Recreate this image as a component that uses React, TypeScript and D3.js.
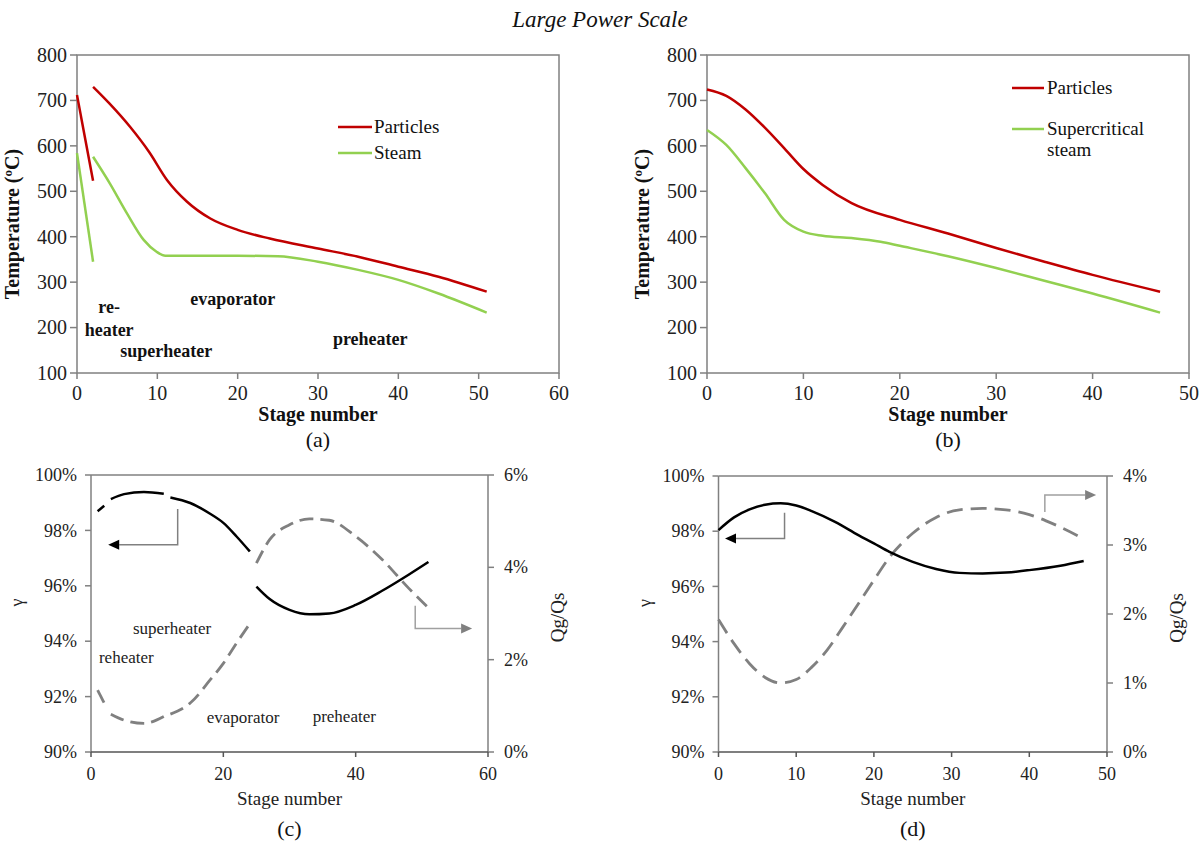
import React from "react";
import * as d3 from "d3";

const FONT = "'Liberation Serif', 'Times New Roman', serif";
const RED = "#c00000";
const GREEN = "#92d050";
const AXIS = "#808080";

// ---------- Panel (a) ----------
const aRhStages = [0, 2];
const aRhParticles = [712, 523];
const aRhSteam = [584, 345];
const aPartStages = [2, 4, 6.6, 9, 11.2, 13.7, 16.6, 20, 24, 30, 35, 40, 45, 51];
const aPartTemp = [730, 694, 642, 586, 525, 477, 440, 415, 396, 374, 356, 334, 312, 279];
const aSteamStages = [2, 4.1, 6.2, 8.3, 9.9, 11, 15, 20, 25, 30, 35, 40, 45, 51];
const aSteamTemp = [576, 517, 452, 393, 367, 358, 358, 358, 357, 345, 327, 305, 275, 233];
const aLabels = [
  { text: "re-", s: 4.0, t: 232 },
  { text: "heater", s: 4.0, t: 182 },
  { text: "superheater", s: 11.1, t: 136 },
  { text: "evaporator", s: 19.4, t: 250 },
  { text: "preheater", s: 36.5, t: 162 },
];

// ---------- Panel (b) ----------
const bStages = [0, 2, 4, 6, 8, 10, 12, 15, 20, 25, 30, 35, 40, 47];
const bParticles = [724, 710, 680, 640, 595, 549, 514, 474, 437, 407, 375, 345, 316, 279];
const bSteamStages = [0, 2, 4, 6, 8, 10, 12, 15, 18, 20, 25, 30, 35, 40, 47];
const bSteam = [635, 602, 551, 496, 437, 411, 402, 397, 389, 380, 357, 331, 303, 275, 233];

// ---------- Panel (c) ----------
const cRhStages = [1, 2];
const cRhGamma = [98.69, 98.89];
const cRhQ = [1.34, 1.06];
const cShStages = [3, 5, 8, 11];
const cShGamma = [99.13, 99.31, 99.39, 99.32];
const cShQ = [0.82, 0.69, 0.62, 0.77];
const cEvStages = [12, 15, 18, 20, 22, 24];
const cEvGamma = [99.19, 98.99, 98.6, 98.27, 97.78, 97.24];
const cEvQ = [0.82, 1.06, 1.56, 1.92, 2.36, 2.78];
const cPhStages = [25, 27, 30, 33, 36, 40, 44, 48, 51];
const cPhGamma = [95.97, 95.52, 95.13, 94.97, 95.0, 95.31, 95.82, 96.4, 96.86];
const cPhQ = [4.09, 4.6, 4.92, 5.05, 5.02, 4.67, 4.17, 3.55, 3.12];
const cLabels = [
  { text: "superheater", s: 6.34, g: 94.26 },
  { text: "reheater", s: 1.2, g: 93.22 },
  { text: "evaporator", s: 17.5, g: 91.05 },
  { text: "preheater", s: 33.5, g: 91.08 },
];
// arrows: [stage, gamma] points; last point is the head tip
const cArrowLeft = [[13.1, 98.77], [13.1, 97.48], [2.6, 97.48]];
const cArrowRight = [[49.0, 95.28], [49.0, 94.46], [57.6, 94.46]];

// ---------- Panel (d) ----------
const dStages = [0, 2, 4, 6, 8, 10, 12, 15, 18, 20, 22, 25, 28, 31, 34, 37, 40, 44, 47];
const dGamma = [98.04, 98.5, 98.79, 98.96, 99.01, 98.93, 98.73, 98.34, 97.86, 97.56, 97.25, 96.89, 96.63, 96.49, 96.47, 96.5, 96.59, 96.75, 96.92];
const dQStages = [0, 2, 4, 6, 8, 10, 12, 14, 16, 18, 20, 22, 25, 28, 31, 34, 37, 40, 43, 47];
const dQ = [1.92, 1.57, 1.28, 1.08, 1.0, 1.05, 1.23, 1.48, 1.81, 2.15, 2.49, 2.82, 3.17, 3.4, 3.51, 3.53, 3.51, 3.44, 3.31, 3.09];
const dArrowLeft = [[8.5, 98.67], [8.5, 97.74], [0.84, 97.74]];
const dArrowRight = [[42.0, 98.7], [42.0, 99.31], [48.6, 99.31]];

const tempTicks = d3.range(100, 801, 100);
const gammaTicks = d3.range(90, 100.1, 2);

type Pt = [number, number];
const zip = (xs: number[], ys: number[]): Pt[] => xs.map((x, i) => [x, ys[i]]);

function Arrow({ pts, x, y, lineColor, headColor }: any) {
  const p = pts.map((d: number[]) => [x(d[0]), y(d[1])]);
  const n = p.length;
  const tip = p[n - 1];
  const prev = p[n - 2];
  const dx = tip[0] - prev[0];
  const dy = tip[1] - prev[1];
  const len = Math.hypot(dx, dy);
  const ux = dx / len, uy = dy / len;
  const hl = 11, hw = 5;
  const base = [tip[0] - ux * hl, tip[1] - uy * hl];
  const linePts = p.slice(0, n - 1).concat([base]);
  const head = [
    tip,
    [base[0] - uy * hw, base[1] + ux * hw],
    [base[0] + uy * hw, base[1] - ux * hw],
  ];
  return (
    <g>
      <polyline points={linePts.map((q: number[]) => q.join(",")).join(" ")} fill="none" stroke={lineColor} strokeWidth={1.5} />
      <polygon points={head.map((q: number[]) => q.join(",")).join(" ")} fill={headColor} />
    </g>
  );
}

function TempPanel({ left, right, top, bottom, xMax, caption, captionY, children }: any) {
  const x = d3.scaleLinear().domain([0, xMax]).range([left, right]);
  const y = d3.scaleLinear().domain([100, 800]).range([bottom, top]);
  const xTicks = d3.range(0, xMax + 0.1, 10);
  const cx = (left + right) / 2;
  const cy = (top + bottom) / 2;
  return (
    <g fontFamily={FONT}>
      <rect x={left} y={top} width={right - left} height={bottom - top} fill="none" stroke={AXIS} strokeWidth={1.5} />
      {tempTicks.map((t) => (
        <g key={"y" + t}>
          <line x1={left - 7} x2={left} y1={y(t)} y2={y(t)} stroke={AXIS} strokeWidth={1.5} />
          <text x={left - 10} y={y(t)} dy="0.34em" textAnchor="end" fontSize={20} fill="#222">{t}</text>
        </g>
      ))}
      {xTicks.map((t) => (
        <g key={"x" + t}>
          <line x1={x(t)} x2={x(t)} y1={bottom} y2={bottom + 6} stroke={AXIS} strokeWidth={1.5} />
          <text x={x(t)} y={bottom + 27} textAnchor="middle" fontSize={20} fill="#222">{t}</text>
        </g>
      ))}
      <text x={cx} y={bottom + 48} textAnchor="middle" fontSize={20} fontWeight="bold" fill="#111">Stage number</text>
      <text transform={`translate(${left - 58},${cy + 10}) rotate(-90)`} textAnchor="middle" fontSize={20} fontWeight="bold" fill="#111">Temperature (ºC)</text>
      <text x={cx} y={captionY} textAnchor="middle" fontSize={22} fill="#111">{caption}</text>
      {children(x, y)}
    </g>
  );
}

function RatioPanel({ left, right, top, bottom, xMax, xStep, qMax, qStep, caption, captionY, children }: any) {
  const x = d3.scaleLinear().domain([0, xMax]).range([left, right]);
  const y = d3.scaleLinear().domain([90, 100]).range([bottom, top]);
  const yq = d3.scaleLinear().domain([0, qMax]).range([bottom, top]);
  const xTicks = d3.range(0, xMax + 0.1, xStep);
  const qTicks = d3.range(0, qMax + 0.01, qStep);
  const cx = (left + right) / 2;
  const cy = (top + bottom) / 2;
  return (
    <g fontFamily={FONT}>
      <line x1={left} x2={right} y1={top} y2={top} stroke={AXIS} strokeWidth={1.5} />
      <line x1={left} x2={left} y1={top} y2={bottom} stroke={AXIS} strokeWidth={1.5} />
      <line x1={right} x2={right} y1={top} y2={bottom} stroke={AXIS} strokeWidth={1.5} />
      <line x1={left} x2={right} y1={bottom} y2={bottom} stroke="#555" strokeWidth={1.5} />
      {gammaTicks.map((t) => (
        <g key={"y" + t}>
          <line x1={left - 6} x2={left} y1={y(t)} y2={y(t)} stroke={AXIS} strokeWidth={1.5} />
          <text x={left - 14} y={y(t)} dy="0.34em" textAnchor="end" fontSize={18} fill="#222">{t}%</text>
        </g>
      ))}
      {qTicks.map((t) => (
        <g key={"q" + t}>
          <line x1={right} x2={right + 6} y1={yq(t)} y2={yq(t)} stroke={AXIS} strokeWidth={1.5} />
          <text x={right + 16} y={yq(t)} dy="0.34em" textAnchor="start" fontSize={18} fill="#222">{t}%</text>
        </g>
      ))}
      {xTicks.map((t) => (
        <g key={"x" + t}>
          <line x1={x(t)} x2={x(t)} y1={bottom} y2={bottom + 5} stroke="#555" strokeWidth={1.5} />
          <text x={x(t)} y={bottom + 28} textAnchor="middle" fontSize={18} fill="#222">{t}</text>
        </g>
      ))}
      <text x={cx} y={bottom + 53} textAnchor="middle" fontSize={19} fill="#222">Stage number</text>
      <text transform={`translate(${left - 68},${cy - 11}) rotate(-90)`} textAnchor="middle" fontSize={18} fill="#222">γ</text>
      <text transform={`translate(${right + 76},${cy + 4}) rotate(-90)`} textAnchor="middle" fontSize={19} fill="#222">Qg/Qs</text>
      <text x={cx} y={captionY} textAnchor="middle" fontSize={22} fill="#111">{caption}</text>
      {children(x, y, yq)}
    </g>
  );
}

export default function App() {
  const curve = d3.curveMonotoneX;
  const mkLine = (x: any, y: any) =>
    d3.line<Pt>().x((d) => x(d[0])).y((d) => y(d[1])).curve(curve);

  const cSegs = [
    [cRhStages, cRhGamma, cRhQ],
    [cShStages, cShGamma, cShQ],
    [cEvStages, cEvGamma, cEvQ],
    [cPhStages, cPhGamma, cPhQ],
  ];

  return (
    <svg width={1201} height={843} style={{ position: "absolute", left: 0, top: 0, background: "#fff" }}>
      <rect width={1201} height={843} fill="#fff" />
      <text x={600} y={27} textAnchor="middle" fontFamily={FONT} fontStyle="italic" fontSize={23} fill="#111">
        Large Power Scale
      </text>

      {/* (a) */}
      <TempPanel left={77} right={559} top={55} bottom={373} xMax={60} caption="(a)" captionY={447}>
        {(x: any, y: any) => {
          const ln = mkLine(x, y);
          return (
            <g>
              <path d={ln(zip(aRhStages, aRhParticles)) || ""} fill="none" stroke={RED} strokeWidth={2.5} />
              <path d={ln(zip(aRhStages, aRhSteam)) || ""} fill="none" stroke={GREEN} strokeWidth={2.5} />
              <path d={ln(zip(aPartStages, aPartTemp)) || ""} fill="none" stroke={RED} strokeWidth={2.5} />
              <path d={ln(zip(aSteamStages, aSteamTemp)) || ""} fill="none" stroke={GREEN} strokeWidth={2.5} />
              {aLabels.map((l) => (
                <text key={l.text} x={x(l.s)} y={y(l.t)} textAnchor="middle" fontSize={18} fontWeight="bold" fill="#111">{l.text}</text>
              ))}
              <line x1={338} x2={372} y1={127} y2={127} stroke={RED} strokeWidth={2.5} />
              <text x={374} y={127} dy="0.34em" fontSize={19} fill="#111">Particles</text>
              <line x1={338} x2={372} y1={153} y2={153} stroke={GREEN} strokeWidth={2.5} />
              <text x={374} y={153} dy="0.34em" fontSize={19} fill="#111">Steam</text>
            </g>
          );
        }}
      </TempPanel>

      {/* (b) */}
      <TempPanel left={707} right={1189} top={55} bottom={373} xMax={50} caption="(b)" captionY={447}>
        {(x: any, y: any) => {
          const ln = mkLine(x, y);
          return (
            <g>
              <path d={ln(zip(bStages, bParticles)) || ""} fill="none" stroke={RED} strokeWidth={2.5} />
              <path d={ln(zip(bSteamStages, bSteam)) || ""} fill="none" stroke={GREEN} strokeWidth={2.5} />
              <line x1={1012} x2={1044} y1={88} y2={88} stroke={RED} strokeWidth={2.5} />
              <text x={1047} y={88} dy="0.34em" fontSize={19} fill="#111">Particles</text>
              <line x1={1012} x2={1044} y1={129} y2={129} stroke={GREEN} strokeWidth={2.5} />
              <text x={1047} y={129} dy="0.34em" fontSize={19} fill="#111">Supercritical</text>
              <text x={1047} y={150} dy="0.34em" fontSize={19} fill="#111">steam</text>
            </g>
          );
        }}
      </TempPanel>

      {/* (c) */}
      <RatioPanel left={91} right={488} top={475} bottom={752} xMax={60} xStep={20} qMax={6} qStep={2} caption="(c)" captionY={836}>
        {(x: any, y: any, yq: any) => {
          const lg = mkLine(x, y);
          const lq = mkLine(x, yq);
          return (
            <g>
              {cSegs.map((s, i) => (
                <path key={"q" + i} d={lq(zip(s[0], s[2])) || ""} fill="none" stroke="#808080" strokeWidth={2.8} strokeDasharray="14 7" />
              ))}
              {cSegs.map((s, i) => (
                <path key={"g" + i} d={lg(zip(s[0], s[1])) || ""} fill="none" stroke="#000" strokeWidth={2.5} />
              ))}
              {cLabels.map((l) => (
                <text key={l.text} x={x(l.s)} y={y(l.g)} fontSize={17} fill="#222">{l.text}</text>
              ))}
              <Arrow pts={cArrowLeft} x={x} y={y} lineColor="#808080" headColor="#000" />
              <Arrow pts={cArrowRight} x={x} y={y} lineColor="#a0a0a0" headColor="#808080" />
            </g>
          );
        }}
      </RatioPanel>

      {/* (d) */}
      <RatioPanel left={718.5} right={1107} top={476} bottom={752} xMax={50} xStep={10} qMax={4} qStep={1} caption="(d)" captionY={836}>
        {(x: any, y: any, yq: any) => {
          const lg = mkLine(x, y);
          const lq = mkLine(x, yq);
          return (
            <g>
              <path d={lq(zip(dQStages, dQ)) || ""} fill="none" stroke="#808080" strokeWidth={2.8} strokeDasharray="16 8" />
              <path d={lg(zip(dStages, dGamma)) || ""} fill="none" stroke="#000" strokeWidth={2.5} />
              <Arrow pts={dArrowLeft} x={x} y={y} lineColor="#808080" headColor="#000" />
              <Arrow pts={dArrowRight} x={x} y={y} lineColor="#a0a0a0" headColor="#808080" />
            </g>
          );
        }}
      </RatioPanel>
    </svg>
  );
}
